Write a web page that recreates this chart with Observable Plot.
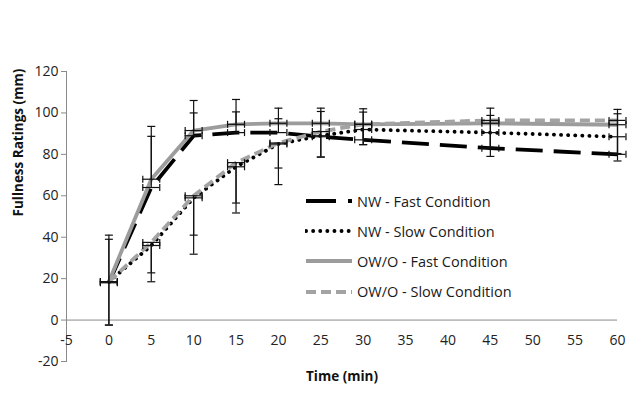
<!DOCTYPE html>
<html>
<head>
<meta charset="utf-8">
<script src="https://cdn.jsdelivr.net/npm/d3@7"></script>
<script src="https://cdn.jsdelivr.net/npm/@observablehq/plot@0.6"></script>
<style>
  html, body { margin: 0; padding: 0; background: #fff; }
  #wrap { position: relative; width: 640px; height: 395px; font-family: "Open Sans", sans-serif; }
  #legend { position: absolute; left: 305px; top: 186px; }
  .row { display: flex; align-items: center; height: 30.2px; font-size: 14.5px; color: #1a1a1a; }
  .row svg { margin-right: 4px; }
</style>
</head>
<body>
<div id="wrap"><div id="chart"></div><div id="legend"></div></div>
<script>
// Time points (min)
const time = [0, 5, 10, 15, 20, 25, 30, 45, 60];

// Series means (mm)
const nwFast = [18, 64, 89, 90.5, 90.5, 88.5, 87, 83, 80];
const nwSlow = [18.5, 36, 59, 74, 85, 89, 92, 90.5, 88.5];
const owFast = [18.5, 68, 91.5, 94.5, 95, 95, 94.5, 95, 94.3];
const owSlow = [18.5, 37.5, 60, 76, 85.5, 91, 94.5, 96.4, 96.4];

// Error magnitudes (fast: plus direction, slow: minus direction)
const nwFastErr = [21, 24.7, 11, 10, 6.7, 12.2, 13.4, 15.8, 19.6];
const nwSlowErr = [20.9, 17.5, 27.2, 22.3, 19.6, 10.3, 7.3, 11.5, 11.7];
const owFastErr = [22.5, 25.5, 14.5, 12, 7.3, 7.3, 7.5, 7.3, 7.4];
const owSlowErr = [20.9, 14.7, 19, 19.5, 12.1, 12.3, 9.8, 13, 16];

// Horizontal error (min)
const timeErr = 1;

// Tick labels
const xTicks = [-5, 0, 5, 10, 15, 20, 25, 30, 35, 40, 45, 50, 55, 60];
const yTicks = [-20, 0, 20, 40, 60, 80, 100, 120];

const seriesNames = ["NW - Fast Condition", "NW - Slow Condition", "OW/O - Fast Condition", "OW/O - Slow Condition"];

const seriesConfig = [
  {name: seriesNames[0], values: nwFast, err: nwFastErr, dir: 1, stroke: "#000", dash: "27,11", width: 3.8, cap: "butt"},
  {name: seriesNames[1], values: nwSlow, err: nwSlowErr, dir: -1, stroke: "#000", dash: "0.1,7", width: 3.8, cap: "round"},
  {name: seriesNames[2], values: owFast, err: owFastErr, dir: 1, stroke: "#9c9c9c", dash: null, width: 3.8, cap: "butt"},
  {name: seriesNames[3], values: owSlow, err: owSlowErr, dir: -1, stroke: "#a3a3a3", dash: "10,5", width: 3.8, cap: "butt"}
];

const rows = seriesConfig.flatMap(s => time.map((t, i) => ({
  series: s.name, t, v: s.values[i], end: s.values[i] + s.dir * s.err[i]
})));

const hCap = {draw(ctx) { ctx.moveTo(-4, 0); ctx.lineTo(4, 0); }};
const vCap = {draw(ctx) { ctx.moveTo(0, -3.5); ctx.lineTo(0, 3.5); }};

const fmt = d => String(d);

const lineMarks = seriesConfig.map(s => Plot.line(rows.filter(r => r.series === s.name), {
  x: "t", y: "v", stroke: s.stroke, strokeWidth: s.width,
  strokeDasharray: s.dash, strokeLinecap: s.cap, strokeLinejoin: "round"
}));

const chart = Plot.plot({
  width: 640,
  height: 395,
  marginLeft: 66,
  marginRight: 23,
  marginTop: 71,
  marginBottom: 34,
  style: {fontFamily: "Open Sans, sans-serif", fontSize: "14px", background: "#fff"},
  x: {domain: [-5, 60]},
  y: {domain: [-20, 120]},
  marks: [
    Plot.frame({anchor: "left", stroke: "#8a8a8a"}),
    Plot.ruleY([0], {stroke: "#8a8a8a"}),
    Plot.axisY({ticks: yTicks, tickFormat: fmt, tickSize: 5, tickPadding: 3, fontSize: 14,
      stroke: "#8a8a8a", fill: "#222", label: null}),
    Plot.axisX({ticks: [], label: null}),
    Plot.text(xTicks, {x: d => d, y: 0, text: fmt, dy: 20, fontSize: 14, fill: "#222"}),
    Plot.text(["Fullness Ratings (mm)"], {frameAnchor: "left", rotate: -90, dx: -48, fontSize: 13.5, fontWeight: "bold", fill: "#111"}),
    Plot.text(["Time (min)"], {frameAnchor: "bottom", dy: 19, fontSize: 13.5, fontWeight: "bold", fill: "#111"}),
    ...lineMarks,
    // vertical error bars
    Plot.ruleX(rows, {x: "t", y1: "v", y2: "end", stroke: "#111", strokeWidth: 1.2}),
    Plot.dot(rows, {x: "t", y: "end", symbol: hCap, r: 3, stroke: "#111", strokeWidth: 1.2, fill: "none"}),
    // horizontal error bars
    Plot.ruleY(rows, {y: "v", x1: d => d.t - timeErr, x2: d => d.t + timeErr, stroke: "#111", strokeWidth: 1.2}),
    Plot.dot(rows, {x: d => d.t - timeErr, y: "v", symbol: vCap, r: 3, stroke: "#111", strokeWidth: 1.2, fill: "none"}),
    Plot.dot(rows, {x: d => d.t + timeErr, y: "v", symbol: vCap, r: 3, stroke: "#111", strokeWidth: 1.2, fill: "none"})
  ]
});
document.getElementById("chart").appendChild(chart);

// Legend
const legend = document.getElementById("legend");
seriesConfig.forEach(s => {
  const row = document.createElement("div");
  row.className = "row";
  const ns = "http://www.w3.org/2000/svg";
  const svg = document.createElementNS(ns, "svg");
  svg.setAttribute("width", 48);
  svg.setAttribute("height", 10);
  const ln = document.createElementNS(ns, "line");
  ln.setAttribute("x1", 1); ln.setAttribute("x2", 47);
  ln.setAttribute("y1", 5); ln.setAttribute("y2", 5);
  ln.setAttribute("stroke", s.stroke);
  ln.setAttribute("stroke-width", s.width);
  ln.setAttribute("stroke-linecap", s.cap);
  if (s.dash) ln.setAttribute("stroke-dasharray", s.dash === "27,11" ? "30,12" : s.dash);
  svg.appendChild(ln);
  row.appendChild(svg);
  const span = document.createElement("span");
  span.textContent = s.name;
  row.appendChild(span);
  legend.appendChild(row);
});
</script>
</body>
</html>
